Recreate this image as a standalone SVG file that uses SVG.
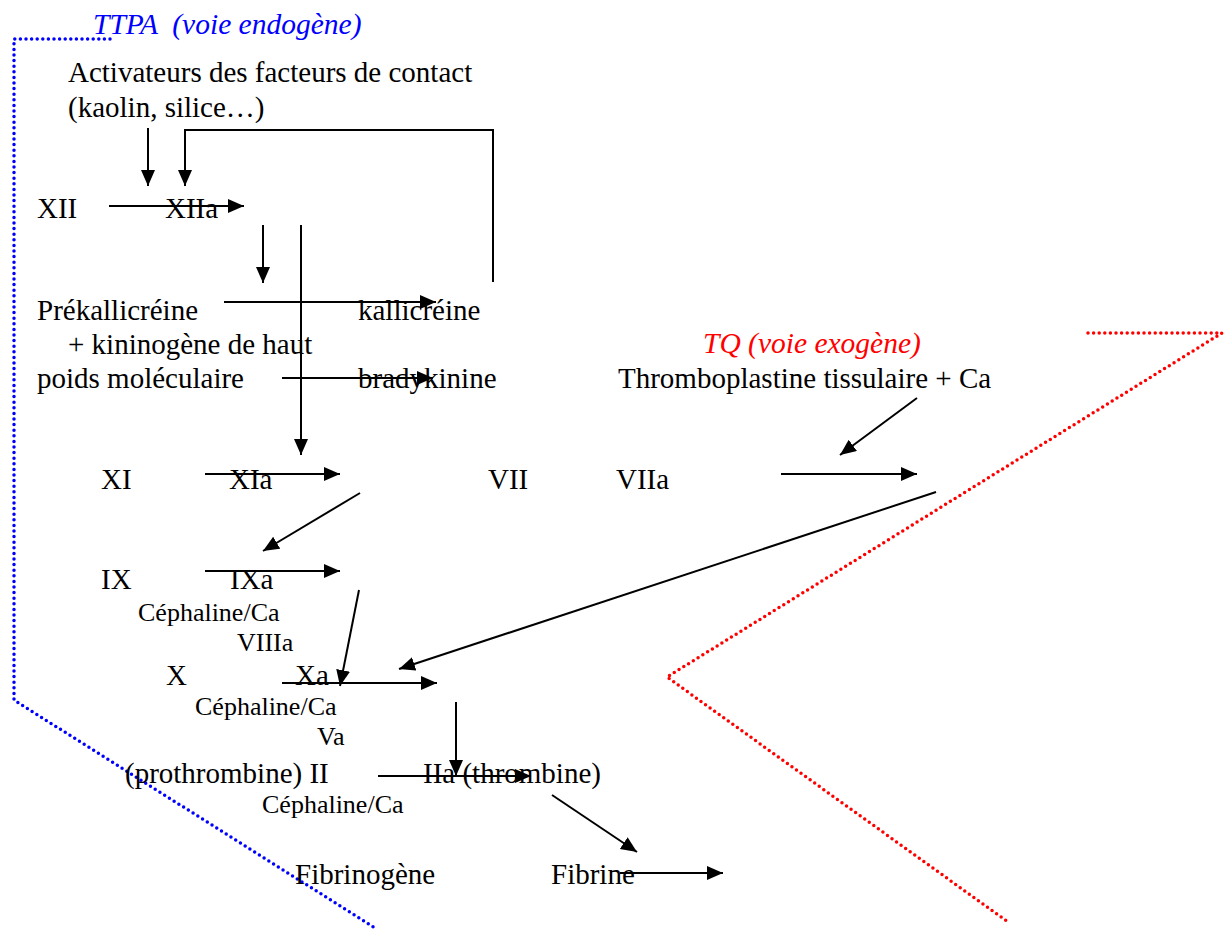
<svg xmlns="http://www.w3.org/2000/svg" width="1224" height="930" viewBox="0 0 1224 930">
<style>
text{font-family:"Liberation Serif","Times New Roman",serif;fill:#000}
.m{font-size:29px}
.s{font-size:26px}
.t{font-style:italic;font-size:29.5px}
.a{stroke:#000;stroke-width:2;fill:none}
.bd{stroke:#0000ff;stroke-width:3.5;stroke-dasharray:0 5.6;stroke-linecap:round;fill:none}
.rd{stroke:#ff0000;stroke-width:3.5;stroke-dasharray:0 5.6;stroke-linecap:round;fill:none}
</style>
<defs>
<marker id="ah" markerUnits="userSpaceOnUse" markerWidth="17" markerHeight="15" refX="16" refY="7" orient="auto">
<path d="M0,0 L16,7 L0,14 z" fill="#000"/>
</marker>
</defs>
<rect width="1224" height="930" fill="#fff"/>
<g id="boundaries">
<polyline class="bd" points="110,39 14,39 14,694 14,700 375,928"/>
<polyline class="rd" points="1088,333 1222,333 667,677 1008,922"/>
</g>
<g id="titles">
<text class="t" x="93" y="34" style="fill:#0000ff" xml:space="preserve">TTPA  (voie endogène)</text>
<text class="t" x="703" y="353" style="fill:#ff0000">TQ (voie exogène)</text>
</g>
<g id="activateurs"><text class="m" x="68" y="82">Activateurs des facteurs de contact</text><text class="m" x="68" y="117">(kaolin, silice…)</text></g>
<g id="XII"><text class="m" x="37" y="218">XII</text></g>
<g id="XIIa"><text class="m" x="165" y="218">XIIa</text></g>
<g id="prekallicreine"><text class="m" x="37" y="320">Prékallicréine</text><text class="m" x="68" y="354">+ kininogène de haut</text><text class="m" x="37" y="388">poids moléculaire</text></g>
<g id="kallicreine"><text class="m" x="358" y="320">kallicréine</text></g>
<g id="bradykinine"><text class="m" x="358" y="388">bradykinine</text></g>
<g id="thromboplastine"><text class="m" x="618" y="388">Thromboplastine tissulaire + Ca</text></g>
<g id="XI"><text class="m" x="101" y="489">XI</text></g>
<g id="XIa"><text class="m" x="229" y="489">XIa</text></g>
<g id="VII"><text class="m" x="488" y="489">VII</text></g>
<g id="VIIa"><text class="m" x="616" y="489">VIIa</text></g>
<g id="IX"><text class="m" x="101" y="589">IX</text></g>
<g id="IXa"><text class="m" x="230" y="589">IXa</text></g>
<g id="cephaline1"><text class="s" x="138" y="621">Céphaline/Ca</text><text class="s" x="237" y="651">VIIIa</text></g>
<g id="X"><text class="m" x="166" y="685">X</text></g>
<g id="Xa"><text class="m" x="295" y="685">Xa</text></g>
<g id="cephaline2"><text class="s" x="195" y="715">Céphaline/Ca</text><text class="s" x="317" y="745">Va</text></g>
<g id="II"><text class="m" x="125" y="783">(prothrombine) II</text></g>
<g id="IIa"><text class="m" x="423" y="783">IIa (thrombine)</text></g>
<g id="cephaline3"><text class="s" x="262" y="813">Céphaline/Ca</text></g>
<g id="fibrinogene"><text class="m" x="295" y="884">Fibrinogène</text></g>
<g id="fibrine"><text class="m" x="551" y="884">Fibrine</text></g>
<g id="connectors">
<line class="a" x1="148" y1="128" x2="148" y2="186" marker-end="url(#ah)"/>
<polyline class="a" points="493,282 493,130 185,130 185,186" marker-end="url(#ah)"/>
<line class="a" x1="109" y1="206" x2="244" y2="206" marker-end="url(#ah)"/>
<line class="a" x1="263" y1="225" x2="263" y2="283" marker-end="url(#ah)"/>
<line class="a" x1="301" y1="225" x2="301" y2="455" marker-end="url(#ah)"/>
<line class="a" x1="224" y1="302" x2="436" y2="302" marker-end="url(#ah)"/>
<line class="a" x1="282" y1="378" x2="433" y2="378" marker-end="url(#ah)"/>
<line class="a" x1="917" y1="398" x2="840" y2="455" marker-end="url(#ah)"/>
<line class="a" x1="205" y1="474" x2="340" y2="474" marker-end="url(#ah)"/>
<line class="a" x1="781" y1="474" x2="917" y2="474" marker-end="url(#ah)"/>
<line class="a" x1="360" y1="493" x2="263" y2="551" marker-end="url(#ah)"/>
<line class="a" x1="205" y1="571" x2="340" y2="571" marker-end="url(#ah)"/>
<line class="a" x1="359" y1="590" x2="340" y2="686" marker-end="url(#ah)"/>
<line class="a" x1="936" y1="492" x2="399" y2="669" marker-end="url(#ah)"/>
<line class="a" x1="282" y1="683" x2="437" y2="683" marker-end="url(#ah)"/>
<line class="a" x1="456" y1="702" x2="456" y2="776" marker-end="url(#ah)"/>
<line class="a" x1="378" y1="776" x2="531" y2="776" marker-end="url(#ah)"/>
<line class="a" x1="552" y1="795" x2="637" y2="852" marker-end="url(#ah)"/>
<line class="a" x1="620" y1="873" x2="723" y2="873" marker-end="url(#ah)"/>
</g>
</svg>
